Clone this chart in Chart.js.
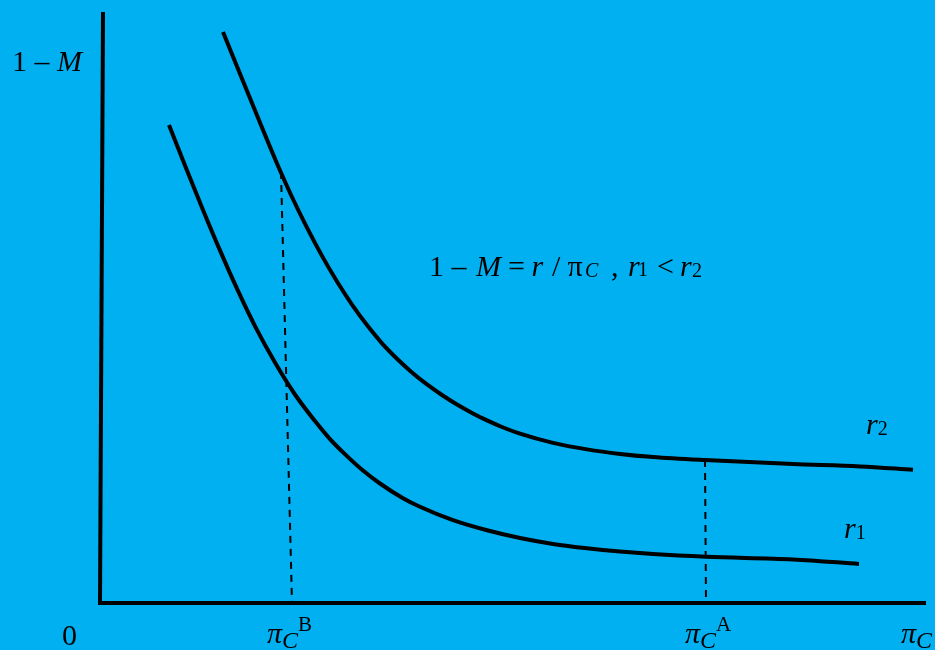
<!DOCTYPE html>
<html lang="en">
<head>
<meta charset="UTF-8">
<title>1 - M = r / pi_C</title>
<script src="https://cdn.jsdelivr.net/npm/chart.js"></script>
<style>
  html, body { margin: 0; padding: 0; background: #00b0f0; }
  canvas { display: block; }
</style>
</head>
<body>
<canvas id="curves" width="935" height="650"></canvas>
<script>
// curve r1 (lower) and r2 (upper)
const r1X = [0.69, 0.87, 1.03, 1.20, 1.37, 1.55, 1.75, 1.95, 2.15, 2.30, 2.47, 2.63, 2.80, 3.03, 3.20,
             3.53, 3.87, 4.20, 4.53, 4.87, 5.20, 5.53, 6.06, 6.93, 7.59];
const r1Y = [4.78, 4.326, 3.931, 3.526, 3.143, 2.769, 2.405, 2.085, 1.819, 1.639, 1.469, 1.325, 1.195, 1.048, 0.962,
             0.828, 0.727, 0.65, 0.591, 0.547, 0.514, 0.489, 0.462, 0.436, 0.391];
const r2X = [1.23, 1.62, 1.77, 1.92, 2.07, 2.22, 2.37, 2.52, 2.67, 2.82, 2.97, 3.12, 3.27, 3.42, 3.57,
             3.72, 3.87, 4.02, 4.20, 4.53, 4.87, 5.20, 5.53, 6.05, 6.93, 7.60, 8.13];
const r2Y = [5.71, 4.754, 4.395, 4.06, 3.753, 3.471, 3.215, 2.984, 2.779, 2.597, 2.443, 2.306, 2.186, 2.08, 1.985,
             1.901, 1.826, 1.76, 1.693, 1.601, 1.536, 1.491, 1.46, 1.429, 1.389, 1.366, 1.332];

// dashed drop lines at pi_C^B and pi_C^A
const dropBX = [1.81, 1.92];
const dropBY = [4.31, 0];
const dropAX = [6.05, 6.06];
const dropAY = [1.43, 0];

// axes
const yAxisX = [0.03, 0];
const yAxisY = [5.89, 0];
const xAxisX = [0, 8.24];
const xAxisY = [0, 0];

// texts: each piece is [text, italic, size, shift, start]; start null = right after previous piece
const yTitle = [['1 \u2013 ', false, 30, 0, null], ['M', true, 30, 0, null]];
const originLabel = [['0', false, 30, 0, null]];
const tickB = [['\u03c0', true, 30, 0, null], ['C', true, 24, 5, null], ['B', false, 21, -12, null]];
const tickA = [['\u03c0', true, 30, 0, null], ['C', true, 24, 5, null], ['A', false, 21, -12, null]];
const xTitle = [['\u03c0', true, 30, 0, null], ['C', true, 24, 5, null]];
const equation = [
  ['1 \u2013', false, 30, 0, 0], ['M', true, 30, 0, 47], ['=', false, 30, 0, 79], ['r', true, 30, 0, 102.5],
  ['/', false, 30, 0, 123], ['\u03c0', false, 30, 0, 138.5], ['C', true, 20, 1, 156], [',', false, 30, 0, 182],
  ['r', true, 30, 0, 199], ['1', false, 20, 0, 209], ['<', false, 30, 0, 228], ['r', true, 30, 0, 251],
  ['2', false, 20, 1, 263]
];
const labelR2 = [['r', true, 30, 0, null], ['2', false, 20, 1, null]];
const labelR1 = [['r', true, 30, 0, null], ['1', false, 20, 1, null]];

const pts = (xs, ys) => xs.map((x, i) => ({ x, y: ys[i] }));

const serif = '"Liberation Serif", "Times New Roman", serif';

function drawRich(ctx, x, y, parts) {
  let cx = x;
  parts.forEach(([t, it, size, dy, start]) => {
    if (start !== null) cx = x + start;
    ctx.font = (it ? 'italic ' : '') + size + 'px ' + serif;
    ctx.fillText(t, cx, y + dy);
    cx += ctx.measureText(t).width;
  });
}

const textPlugin = {
  id: 'texts',
  beforeDraw(chart) {
    const ctx = chart.ctx;
    ctx.save();
    ctx.fillStyle = '#00b0f0';
    ctx.fillRect(0, 0, chart.width, chart.height);
    ctx.restore();
  },
  afterDatasetsDraw(chart) {
    const ctx = chart.ctx;
    const xs = chart.scales.x, ys = chart.scales.y;
    const put = (x, y, parts) => drawRich(ctx, xs.getPixelForValue(x), ys.getPixelForValue(y), parts);
    ctx.save();
    ctx.fillStyle = '#000';
    ctx.textBaseline = 'alphabetic';
    put(-0.88, 5.32, yTitle);
    put(-0.38, -0.42, originLabel);
    put(1.67, -0.40, tickB);
    put(5.85, -0.40, tickA);
    put(8.01, -0.40, xTitle);
    put(3.29, 3.27, equation);
    put(7.66, 1.69, labelR2);
    put(7.44, 0.65, labelR1);
    ctx.restore();
  }
};

const solid = { borderColor: '#000', borderWidth: 4, pointRadius: 0, fill: false };
const dashed = { borderColor: '#000', borderWidth: 2, borderDash: [7, 6], pointRadius: 0, fill: false };

new Chart(document.getElementById('curves'), {
  type: 'line',
  data: {
    datasets: [
      { ...solid, label: 'y axis', data: pts(yAxisX, yAxisY), borderCapStyle: 'square' },
      { ...solid, label: 'x axis', data: pts(xAxisX, xAxisY), borderCapStyle: 'square' },
      { ...dashed, label: 'B', data: pts(dropBX, dropBY) },
      { ...dashed, label: 'A', data: pts(dropAX, dropAY) },
      { ...solid, label: 'r1', data: pts(r1X, r1Y), cubicInterpolationMode: 'monotone' },
      { ...solid, label: 'r2', data: pts(r2X, r2Y), cubicInterpolationMode: 'monotone' }
    ]
  },
  options: {
    responsive: false,
    animation: false,
    layout: { padding: 0 },
    plugins: { legend: { display: false }, tooltip: { enabled: false } },
    scales: {
      x: { type: 'linear', display: false, min: -1.0, max: 8.35 },
      y: { type: 'linear', display: false, min: -0.47, max: 6.03 }
    }
  },
  plugins: [textPlugin]
});
</script>
</body>
</html>
